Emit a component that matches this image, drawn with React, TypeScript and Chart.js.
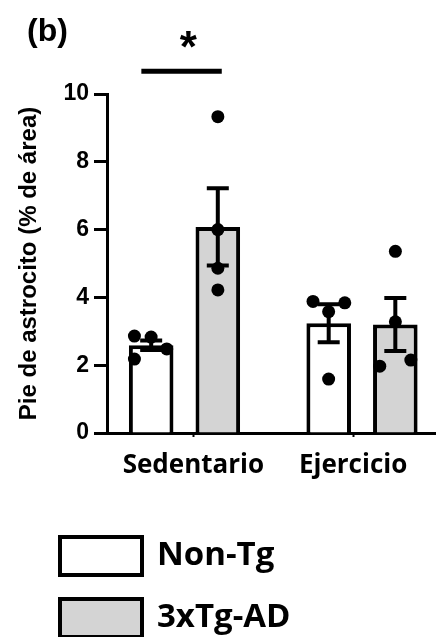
import React, { useEffect, useRef } from "react";
import { Chart, registerables } from "chart.js";

Chart.register(...registerables);

// ---- data ----
const categories = ["Sedentario", "Ejercicio"];
const seriesNames = ["Non-Tg", "3xTg-AD"];
const seriesFill = ["#ffffff", "#d4d4d4"];

const nonTgMean = [2.59, 3.24];
const tgMean = [6.08, 3.2];
const nonTgSem = [0.14, 0.56];
const tgSem = [1.14, 0.78];

const nonTgSedPoints = [2.86, 2.83, 2.48, 2.18];
const nonTgSedJitter = [-0.094, 0, 0.088, -0.094];
const tgSedPoints = [9.33, 6.0, 4.86, 4.22];
const tgSedJitter = [0, 0, 0, 0];
const nonTgExPoints = [3.88, 3.58, 3.84, 1.59];
const nonTgExJitter = [-0.088, 0, 0.091, 0];
const tgExPoints = [5.36, 3.28, 1.97, 2.15];
const tgExJitter = [0, 0, -0.088, 0.087];

const yTicks = [0, 2, 4, 6, 8, 10];
const yTitle = "Pie de astrocito (% de área)";
const panelLabel = "(b)";
const sigLabel = "*";
const sigFrom = 0.757;
const sigTo = 1.21;
const sigY = 10.67;
const sigTextX = 1.022;

// ---- layout constants ----
const W = 442;
const H = 637;
const seriesOffsets = [-0.188, 0.188];
const xLabelTicks = [1.05, 1.95];

export default function App() {
  const ref = useRef<HTMLCanvasElement>(null);

  useEffect(() => {
    const canvas = ref.current;
    if (!canvas) return;

    const barData = (means: number[]) => means.map((m, i) => ({ x: i + 1, y: m }));
    const pts = (g: number, s: number, vals: number[], jit: number[]) =>
      vals.map((v, k) => ({ x: g + 1 + seriesOffsets[s] + jit[k], y: v }));

    const means = [nonTgMean, tgMean];
    const sems = [nonTgSem, tgSem];

    const annot = {
      id: "annot",
      afterDatasetsDraw(chart: any) {
        const ctx = chart.ctx;
        const y = chart.scales.y;
        ctx.save();
        ctx.strokeStyle = "#000";
        ctx.lineWidth = 4;
        for (let di = 0; di < 2; di++) {
          const meta = chart.getDatasetMeta(di);
          meta.data.forEach((el: any, gi: number) => {
            const cx = el.x;
            const top = y.getPixelForValue(means[di][gi] + sems[di][gi]);
            const bot = y.getPixelForValue(means[di][gi] - sems[di][gi]);
            ctx.beginPath();
            ctx.moveTo(cx, top);
            ctx.lineTo(cx, bot);
            ctx.moveTo(cx - 11, top);
            ctx.lineTo(cx + 11, top);
            ctx.moveTo(cx - 11, bot);
            ctx.lineTo(cx + 11, bot);
            ctx.stroke();
          });
        }
        ctx.restore();
      },
      afterDraw(chart: any) {
        const ctx = chart.ctx;
        const x = chart.scales.x;
        const y = chart.scales.y;
        ctx.save();
        // significance bar
        const ly = y.getPixelForValue(sigY);
        ctx.strokeStyle = "#000";
        ctx.lineWidth = 5;
        ctx.beginPath();
        ctx.moveTo(x.getPixelForValue(sigFrom), ly);
        ctx.lineTo(x.getPixelForValue(sigTo), ly);
        ctx.stroke();
        // asterisk
        ctx.fillStyle = "#000";
        ctx.font = "bold 44px 'Liberation Sans', Arial, sans-serif";
        ctx.textAlign = "center";
        ctx.textBaseline = "alphabetic";
        const m = ctx.measureText(sigLabel);
        const cy = ly - 32;
        const base = cy - (m.actualBoundingBoxDescent - m.actualBoundingBoxAscent) / 2;
        ctx.fillText(sigLabel, x.getPixelForValue(sigTextX), base);
        // panel label
        ctx.textAlign = "left";
        ctx.font = "bold 32px 'Liberation Sans', Arial, sans-serif";
        ctx.fillText(panelLabel, 27, 41);
        // legend
        const ds = chart.data.datasets;
        const rows = [556, 618];
        for (let i = 0; i < 2; i++) {
          const cyy = rows[i];
          ctx.fillStyle = ds[i].backgroundColor;
          ctx.fillRect(60, cyy - 19, 82, 38);
          ctx.strokeStyle = "#000";
          ctx.lineWidth = 4;
          ctx.strokeRect(60, cyy - 19, 82, 38);
          ctx.fillStyle = "#000";
          ctx.font = "bold 33px 'Open Sans', sans-serif";
          ctx.textBaseline = "middle";
          ctx.textAlign = "left";
          ctx.fillText(ds[i].label, 157, cyy);
        }
        ctx.restore();
      },
    };

    const chart = new Chart(canvas, {
      type: "bar",
      data: {
        datasets: [
          {
            type: "bar",
            label: seriesNames[0],
            data: barData(nonTgMean),
            backgroundColor: seriesFill[0],
            borderColor: "#000",
            borderWidth: 4,
            categoryPercentage: 0.834,
            barPercentage: 0.669,
            order: 1,
          },
          {
            type: "bar",
            label: seriesNames[1],
            data: barData(tgMean),
            backgroundColor: seriesFill[1],
            borderColor: "#000",
            borderWidth: 4,
            categoryPercentage: 0.834,
            barPercentage: 0.669,
            order: 1,
          },
          {
            type: "scatter",
            label: seriesNames[0] + " points",
            data: [...pts(0, 0, nonTgSedPoints, nonTgSedJitter), ...pts(1, 0, nonTgExPoints, nonTgExJitter)],
            pointRadius: 6.5,
            backgroundColor: "#000",
            borderWidth: 0,
            order: 0,
          },
          {
            type: "scatter",
            label: seriesNames[1] + " points",
            data: [...pts(0, 1, tgSedPoints, tgSedJitter), ...pts(1, 1, tgExPoints, tgExJitter)],
            pointRadius: 6.5,
            backgroundColor: "#000",
            borderWidth: 0,
            order: 0,
          },
        ] as any,
      },
      options: {
        responsive: false,
        animation: false,
        events: [],
        layout: { padding: { top: 94, left: 0, right: 0, bottom: 0 } },
        plugins: { legend: { display: false }, tooltip: { enabled: false }, title: { display: false } },
        scales: {
          x: {
            type: "linear",
            min: 0.5635,
            max: 2.414,
            offset: false,
            afterFit: (s: any) => {
              s.height = H - 433;
            },
            afterBuildTicks: (s: any) => {
              s.ticks = xLabelTicks.map((v) => ({ value: v }));
            },
            grid: {
              offset: false,
              drawOnChartArea: false,
              drawTicks: true,
              tickLength: 4,
              tickWidth: 2,
              tickColor: "#000",
            },
            border: { display: true, color: "#000", width: 3 },
            ticks: {
              autoSkip: false,
              maxRotation: 0,
              padding: 13,
              color: "#000",
              font: { family: "'Open Sans', sans-serif", weight: "bold", size: 26 },
              callback: (_v: any, i: number) => categories[i],
            },
          },
          y: {
            min: 0,
            max: 10,
            afterFit: (s: any) => {
              s.width = 107;
            },
            afterBuildTicks: (s: any) => {
              s.ticks = yTicks.map((v) => ({ value: v }));
            },
            grid: {
              drawOnChartArea: false,
              drawTicks: true,
              tickLength: 13,
              tickWidth: 3,
              tickColor: "#000",
            },
            border: { display: true, color: "#000", width: 3 },
            ticks: {
              padding: 5,
              color: "#000",
              font: { family: "'Liberation Sans', Arial, sans-serif", weight: "bold", size: 23 },
            },
            title: {
              display: true,
              text: yTitle,
              color: "#000",
              padding: { top: 15, bottom: 0 },
              font: { family: "'Liberation Sans', Arial, sans-serif", weight: "bold", size: 24 },
            },
          },
        },
      } as any,
      plugins: [annot],
    });

    return () => chart.destroy();
  }, []);

  return (
    <div style={{ position: "absolute", left: 0, top: 0, width: W, height: H, background: "#fff" }}>
      <canvas ref={ref} width={W} height={H} style={{ display: "block", width: W, height: H }} />
    </div>
  );
}
